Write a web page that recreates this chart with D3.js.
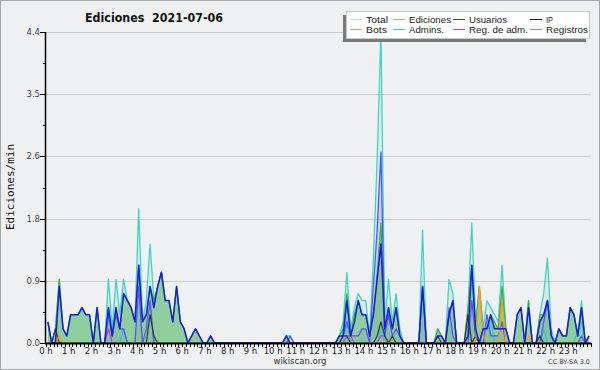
<!DOCTYPE html>
<html><head><meta charset="utf-8">
<script src="https://cdn.jsdelivr.net/npm/d3@7"></script>
<style>body{margin:0;background:#fff}svg{display:block}</style>
</head><body>
<svg id="c" width="600" height="370"></svg>
<script>
// ---- data: 10-minute buckets (144), values in edits/min ----
const hourLabels = d3.range(24).map(h => h + " h");
const yMax = 4.4;
const total = [
0.3,0,0.2,0.9,0.2,0.1, 0.4,0.4,0.4,0.5,0.4,0.4, 0,0.5,0,0,0.9,0.2, 0.9,0.4,0.9,0.6,0.5,0.3,
1.9,0.3,0.6,1.4,0.6,0.8, 1.0,0.6,0.6,0.3,0.8,0.3, 0.2,0,0.1,0.2,0.1,0, 0,0.1,0,0,0,0,
0,0,0,0,0,0, 0,0,0,0,0,0, 0,0,0,0.1,0.1,0, 0,0,0,0,0,0,
0,0,0,0,0,0.1, 0.3,1.0,0.2,0.5,0.7,0.6, 0.6,0.1,1.2,2.6,4.4,0.3, 0.9,0.3,0.7,0.2,0,0,
0,0,0,1.6,0,0, 0,0.2,0.1,0,0.9,0.7, 0,0,0,0.5,1.7,0.3, 0.8,0.2,0.6,0.5,0.4,0.3,
1.1,0.2,0,0,0.4,0.5, 0,0.6,0,0,0.4,0.7, 1.2,0.2,0,0.2,0.1,0.1, 0.5,0.4,0.1,0.6,0,0.1];
const ediciones = [
0.3,0,0.2,0.9,0.2,0.1, 0.4,0.4,0.4,0.5,0.4,0.4, 0,0.5,0,0,0.5,0.1, 0.5,0.2,0.7,0.6,0.5,0.3,
1.1,0.3,0.4,0.8,0.6,0.8, 1.0,0.6,0.6,0.3,0.8,0.3, 0.2,0,0.1,0.2,0.1,0, 0,0.1,0,0,0,0,
0,0,0,0,0,0, 0,0,0,0,0,0, 0,0,0,0.1,0,0, 0,0,0,0,0,0,
0,0,0,0,0,0.1, 0.2,0.7,0.1,0.4,0.6,0.4, 0.4,0.1,0.4,1.0,1.7,0.2, 0.5,0.2,0.5,0.1,0,0,
0,0,0,0.8,0,0, 0,0.2,0.1,0,0.4,0.6, 0,0,0,0.5,1.1,0.2, 0.8,0.2,0.2,0.4,0.3,0.2,
0.8,0.2,0,0,0.4,0.5, 0,0.6,0,0,0.4,0.4, 0.6,0.1,0,0.2,0.1,0.1, 0.5,0.4,0.1,0.5,0,0.1];
const usuarios = [
0.3,0,0,0.8,0.2,0.1, 0.4,0.4,0.4,0.5,0.4,0.4, 0,0.5,0,0,0.5,0.1, 0.5,0.2,0.7,0.6,0.5,0.3,
1.1,0.3,0.4,0.8,0.5,0.8, 1.0,0.6,0.6,0.3,0.8,0.3, 0.2,0,0.1,0.2,0.1,0, 0,0.1,0,0,0,0,
0,0,0,0,0,0, 0,0,0,0,0,0, 0,0,0,0.1,0,0, 0,0,0,0,0,0,
0,0,0,0,0,0.1, 0.1,0.6,0.1,0.3,0.6,0.4, 0.4,0.1,0.4,0.9,1.4,0.2, 0.5,0.2,0.5,0.1,0,0,
0,0,0,0.8,0,0, 0,0.1,0.1,0,0.4,0.6, 0,0,0,0.1,1.1,0.2, 0,0.2,0.2,0.4,0.2,0.2,
0.2,0.2,0,0,0.4,0.5, 0,0.5,0,0,0.3,0.4, 0.6,0.1,0,0.2,0.1,0.1, 0.5,0.4,0.1,0.5,0,0.1];
const ip = [
0,0,0.2,0,0,0, 0,0,0,0,0,0, 0,0,0,0,0,0, 0,0,0,0,0,0,
0,0,0,0.4,0.1,0, 0,0,0,0,0,0, 0,0,0,0,0,0, 0,0,0,0,0,0,
0,0,0,0,0,0, 0,0,0,0,0,0, 0,0,0,0,0,0, 0,0,0,0,0,0,
0,0,0,0,0,0, 0.1,0.1,0,0,0,0, 0,0,0,0.1,0.3,0.1, 0,0.1,0,0,0,0,
0,0,0,0,0,0, 0,0.1,0,0,0,0, 0,0,0,0.4,0,0.1, 0,0,0,0,0,0,
0,0,0,0,0,0, 0,0,0,0,0.1,0, 0,0,0,0,0,0, 0,0,0,0,0,0];
const bots = [
0,0,0,0.1,0,0, 0,0,0,0,0,0, 0,0,0,0,0,0, 0,0,0,0,0,0,
0,0,0,0,0,0, 0,0,0,0,0,0, 0,0,0,0,0,0, 0,0,0,0,0,0,
0,0,0,0,0,0, 0,0,0,0,0,0, 0,0,0,0,0,0, 0,0,0,0,0,0,
0,0,0,0,0,0, 0,0,0,0,0,0, 0,0,0,0,0,0, 0,0,0,0,0,0,
0,0,0,0,0,0, 0,0,0,0,0,0, 0,0,0,0,0,0, 0.8,0.1,0,0,0,0,
0.6,0,0,0,0,0, 0,0.1,0,0,0,0, 0,0,0,0,0,0, 0,0,0,0,0,0];
const admins = [
0,0,0,0,0,0, 0,0,0,0,0,0, 0,0,0,0,0,0, 0,0,0.2,0,0,0,
0,0,0,0,0,0, 0,0,0,0,0,0, 0,0,0,0,0,0, 0,0,0,0,0,0,
0,0,0,0,0,0, 0,0,0,0,0,0, 0,0,0,0,0,0, 0,0,0,0,0,0,
0,0,0,0,0,0, 0,0.3,0,0,0,0, 0,0,0,0,0.2,0, 0,0,0,0,0,0,
0,0,0,0,0,0, 0,0,0,0,0,0, 0,0,0,0,0,0, 0,0,0.3,0.3,0,0,
0,0,0,0,0,0, 0,0,0,0,0,0.2, 0,0,0,0,0,0, 0,0,0.2,0.3,0,0];
const regAdm = [
0,0,0,0,0,0, 0,0,0,0,0,0, 0,0,0,0,0.2,0, 0,0,0,0,0,0,
0,0,0,0,0,0, 0,0,0,0,0,0, 0,0,0,0,0,0, 0,0,0,0,0,0,
0,0,0,0,0,0, 0,0,0,0,0,0, 0,0,0,0,0,0, 0,0,0,0,0,0,
0,0,0,0,0,0, 0,0.1,0.1,0,0,0, 0,0,0,0,0.1,0.1, 0,0,0,0,0,0,
0,0,0,0,0,0, 0,0,0,0,0,0, 0,0,0,0,0,0, 0,0,0,0,0,0,
0,0,0,0,0,0, 0,0,0,0,0,0, 0,0,0,0,0,0, 0,0,0,0,0,0];
const registros = [
0,0,0,0,0,0, 0,0,0,0,0,0, 0,0,0,0,0.4,0.1, 0.4,0.2,0.2,0,0,0,
0.8,0,0.2,0.6,0,0, 0,0,0,0,0,0, 0,0,0,0,0,0, 0,0,0,0,0,0,
0,0,0,0,0,0, 0,0,0,0,0,0, 0,0,0,0,0.1,0, 0,0,0,0,0,0,
0,0,0,0,0,0, 0.1,0.3,0.1,0.1,0.1,0.2, 0.2,0,0.8,1.6,2.7,0.1, 0.4,0.1,0.2,0.1,0,0,
0,0,0,0.8,0,0, 0,0,0,0,0.5,0.1, 0,0,0,0,0.6,0.1, 0,0,0.4,0.1,0.1,0.1,
0.3,0,0,0,0,0, 0,0,0,0,0,0.3, 0.6,0.1,0,0,0,0, 0,0,0,0.1,0,0];
const legendNames = ["Total","Ediciones","Usuarios","IP","Bots","Admins.","Reg. de adm.","Registros"];

// ---- drawing ----
const svg = d3.select("#c");
const W = 600, H = 370;
const L = 46, R = 591, T = 32, B = 343;
const colors = {total:"#3fd4c6", ed:"#3cae45", usu:"#1c1cd0", ip:"#333333", bots:"#ff9a1a",
                adm:"#2ec3e0", regadm:"#c83ad0", reg:"#5656f4"};
const legendColors = ["#a4e6e4","#86cc88","#3a3ae0","#222222","#ffa040","#3ec8e0","#d040e0","#8484f2"];
const legendTextW = [22,42,38,7,21,35,59,42];

svg.append("rect").attr("x",0.5).attr("y",0.5).attr("width",W-1).attr("height",H-1)
  .attr("fill","#eff0f2").attr("stroke","#a8a8a8");

const x = d3.scaleLinear().domain([0,144]).range([L,R]);
const y = d3.scaleLinear().domain([0,yMax]).range([B,T]);

// grid
const major = d3.range(6).map(k => yMax*k/5);
const minor = d3.range(11).map(k => yMax*k/10);
svg.append("g").selectAll("line").data(major.slice(1)).join("line")
  .attr("x1",L).attr("x2",R).attr("y1",d=>Math.round(y(d))+0.5).attr("y2",d=>Math.round(y(d))+0.5)
  .attr("stroke","#c9c9c9").attr("stroke-width",1);

const idx = d3.range(144);
const px = i => x(i+0.5);
const areaOf = arr => d3.area().x(px).y0(B).y1(i=>y(arr[i]))(idx);
const lineOf = arr => d3.line().x(px).y(i=>y(arr[i]))(idx);

const plot = svg.append("g");
plot.append("path").attr("d",areaOf(total)).attr("fill",colors.total).attr("fill-opacity",0.13);
plot.append("path").attr("d",areaOf(registros)).attr("fill",colors.reg).attr("fill-opacity",0.14);
plot.append("path").attr("d",areaOf(ediciones)).attr("fill",colors.ed).attr("fill-opacity",0.47);

const lines = [
  [total, colors.total, 1.3],
  [ediciones, colors.ed, 1.2],
  [admins, colors.adm, 1.2],
  [regAdm, colors.regadm, 1.2],
  [registros, colors.reg, 1.3],
  [ip, colors.ip, 1.2],
  [bots, colors.bots, 1.3],
  [usuarios, colors.usu, 1.5]
];
lines.forEach(([arr,c,w]) => plot.append("path").attr("d",lineOf(arr))
  .attr("fill","none").attr("stroke",c).attr("stroke-width",w).attr("stroke-linejoin","round"));

// y axis
const ax = svg.append("g");
ax.append("line").attr("x1",L-0.5).attr("x2",L-0.5).attr("y1",T).attr("y2",B+1).attr("stroke","#000").attr("stroke-width",1.5);
ax.selectAll(".mj").data(major).join("line").attr("x1",L-6).attr("x2",L)
  .attr("y1",d=>Math.round(y(d))+0.5).attr("y2",d=>Math.round(y(d))+0.5).attr("stroke","#000");
ax.selectAll(".mn").data(minor.filter((d,k)=>k%2)).join("line").attr("x1",L-3).attr("x2",L)
  .attr("y1",d=>Math.round(y(d))+0.5).attr("y2",d=>Math.round(y(d))+0.5).attr("stroke","#000");
ax.selectAll("text").data(major).join("text").attr("x",L-6).attr("y",d=>y(d)+3)
  .attr("text-anchor","end").attr("font-family","DejaVu Sans").attr("font-size",8.5)
  .attr("fill","#444").text(d=>d3.format(".1f")(d));

// x axis
svg.append("line").attr("x1",L-1).attr("x2",R).attr("y1",B+0.5).attr("y2",B+0.5).attr("stroke","#000").attr("stroke-width",2);
svg.append("g").selectAll("line").data(d3.range(145)).join("line")
  .attr("x1",i=>Math.round(x(i))+0.5).attr("x2",i=>Math.round(x(i))+0.5)
  .attr("y1",B).attr("y2",B+4).attr("stroke","#000");
svg.append("g").selectAll("text").data(hourLabels).join("text")
  .attr("x",(d,h)=>x(h*6)).attr("y",B+11).attr("text-anchor","middle")
  .attr("font-family","DejaVu Sans").attr("font-size",8.5).attr("fill","#222").text(d=>d);

// titles
svg.append("text").attr("x",154).attr("y",22).attr("text-anchor","middle")
  .attr("font-family","DejaVu Sans").attr("font-weight","bold").attr("font-size",12)
  .attr("textLength",138).attr("lengthAdjust","spacingAndGlyphs")
  .attr("fill","#111").text("Ediciones  2021-07-06").style("white-space","pre");
svg.append("text").attr("transform","translate(14,187) rotate(-90)").attr("text-anchor","middle")
  .attr("font-family","DejaVu Sans Mono").attr("font-size",11).attr("fill","#111").text("Ediciones/min");
svg.append("text").attr("x",300).attr("y",364).attr("text-anchor","middle")
  .attr("font-family","DejaVu Sans").attr("font-size",8.5).attr("fill","#333").text("wikiscan.org");
svg.append("text").attr("x",590).attr("y",364).attr("text-anchor","end")
  .attr("font-family","DejaVu Sans").attr("font-size",6.5).attr("fill","#444").text("CC BY-SA 3.0");

// legend
const lg = svg.append("g");
lg.append("rect").attr("x",343).attr("y",15).attr("width",243).attr("height",27).attr("fill","#7a7a7a");
lg.append("rect").attr("x",346.5).attr("y",11.5).attr("width",243).attr("height",27).attr("fill","#fff").attr("stroke","#c8c8c8");
const colX = [350,393,453,530];
legendNames.forEach((n,k) => {
  const cx = colX[k%4], cy = k<4 ? 19 : 29;
  lg.append("line").attr("x1",cx).attr("x2",cx+12).attr("y1",cy+0.5).attr("y2",cy+0.5)
    .attr("stroke",legendColors[k]).attr("stroke-width",1);
  lg.append("text").attr("x",cx+16).attr("y",cy+3.5).attr("font-family","Liberation Sans")
    .attr("font-size",9.5).attr("fill","#222")
    .attr("textLength",legendTextW[k]).attr("lengthAdjust","spacingAndGlyphs").text(n);
});
</script>
</body></html>
